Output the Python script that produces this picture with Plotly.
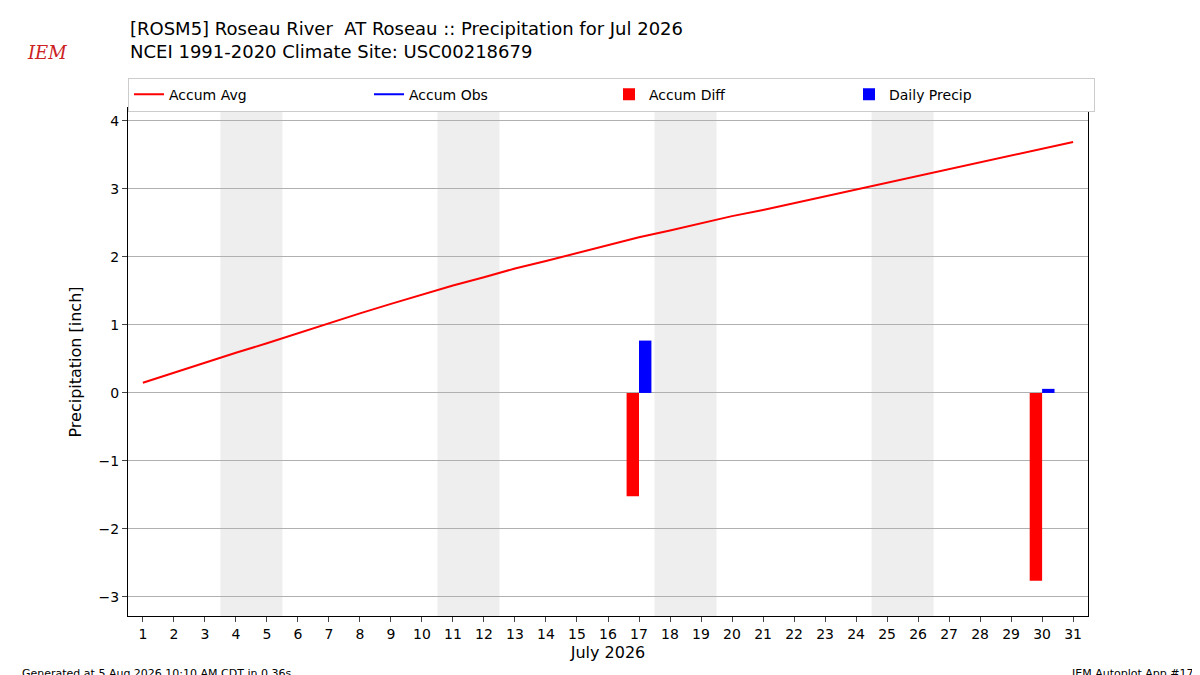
import plotly.graph_objects as go

days = list(range(1, 32))
accum_avg = [0.15,0.30,0.45,0.59,0.73,0.88,1.03,1.17,1.31,1.45,1.58,1.70,1.83,1.94,2.06,2.17,2.29,2.39,2.50,2.60,2.69,2.79,2.89,2.99,3.09,3.19,3.29,3.40,3.50,3.59,3.69]
precip_days = [17, 30]
daily_precip = [0.77, 0.06]
accum_diff = [-1.52, -2.76]
weekends = [(3.5,5.5),(10.5,12.5),(17.5,19.5),(24.5,26.5)]

fig = go.Figure()
fig.add_trace(go.Scatter(x=days, y=accum_avg, mode="lines", line=dict(color="red", width=2), name="Accum Avg"))
fig.add_trace(go.Scatter(x=[None], y=[None], mode="lines", line=dict(color="blue", width=2), name="Accum Obs"))
fig.add_trace(go.Bar(x=precip_days, y=accum_diff, width=0.4, offset=-0.4, marker=dict(color="red", line_width=0), name="Accum Diff"))
fig.add_trace(go.Bar(x=precip_days, y=daily_precip, width=0.4, offset=0, marker=dict(color="blue", line_width=0), name="Daily Precip"))

for a, b in weekends:
    fig.add_vrect(x0=a, x1=b, fillcolor="#eeeeee", line_width=0, layer="below")

fig.update_layout(
    width=1200, height=675, plot_bgcolor="white", paper_bgcolor="white",
    margin=dict(l=120, r=120, t=100, b=67, autoexpand=False),
    font=dict(family="DejaVu Sans", size=13, color="black"),
    barmode="overlay", showlegend=True,
    legend=dict(orientation="h", xref="container", yref="container", x=0.1, y=0.897, xanchor="left", yanchor="top",
                entrywidth=0.25, entrywidthmode="fraction", bordercolor="#cccccc", borderwidth=1,
                font=dict(size=14)),
    xaxis=dict(range=[0.52, 31.48], tickmode="array", tickvals=days, ticktext=[str(d) for d in days], automargin=False,
               showgrid=False, showline=True, linecolor="black", mirror=True, ticks="outside", tickfont=dict(size=14),
               title=dict(text="July 2026", font=dict(size=16), standoff=6)),
    yaxis=dict(range=[-3.28, 4.19], tickvals=[-3,-2,-1,0,1,2,3,4], ticktext=["\u22123","\u22122","\u22121","0","1","2","3","4"],
               automargin=False, tickfont=dict(size=14),
               showgrid=True, gridcolor="#b0b0b0", zeroline=False, showline=True, linecolor="black", mirror=True, ticks="outside",
               title=dict(text="Precipitation [inch]", font=dict(size=16), standoff=12)),
)
fig.add_annotation(text="[ROSM5] Roseau River  AT Roseau :: Precipitation for Jul 2026<br>NCEI 1991-2020 Climate Site: USC00218679",
                   xref="paper", yref="paper", x=0, y=1.0, yshift=92, xanchor="left", yanchor="top",
                   align="left", showarrow=False, font=dict(size=18))
fig.add_annotation(text="<i>IEM</i>", xref="paper", yref="paper", x=-0.107, y=1.0, yshift=68, xanchor="left", yanchor="top",
                   showarrow=False, font=dict(size=18, color="#cc2222", family="DejaVu Serif"))
fig.add_annotation(text="Generated at 5 Aug 2026 10:10 AM CDT in 0.36s", xref="paper", yref="paper", x=-0.1125, y=0, yshift=-57,
                   xanchor="left", yanchor="middle", showarrow=False, font=dict(size=11))
fig.add_annotation(text="IEM Autoplot App #17", xref="paper", yref="paper", x=1.1125, y=0, yshift=-57,
                   xanchor="right", yanchor="middle", showarrow=False, font=dict(size=11))
fig.write_html("out.html")
